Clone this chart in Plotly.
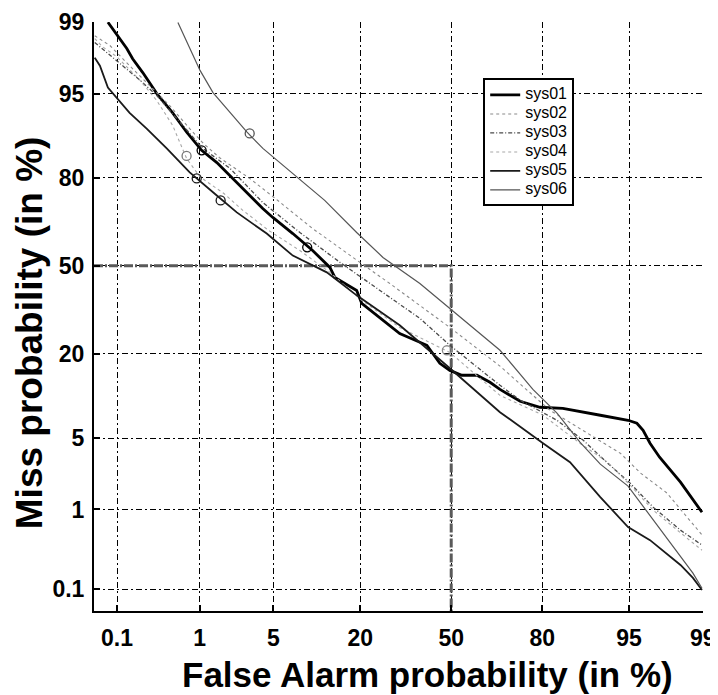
import plotly.graph_objects as go
from statistics import NormalDist

_nd = NormalDist()


def probit(pcts):
    """Map percentages onto the normal-deviate (DET) scale."""
    return [_nd.inv_cdf(p / 100.0) for p in pcts]


# ---------------- data (percent) ----------------
tick_pct = [0.1, 1, 5, 20, 50, 80, 95, 99]
tick_labels = ["0.1", "1", "5", "20", "50", "80", "95", "99"]
axis_x_min_pct, axis_x_max_pct = 0.0478, 99.0
axis_y_min_pct, axis_y_max_pct = 0.0490, 99.0
operating_point_pct = 50

sys01_fa = [0.075, 0.087, 0.108, 0.135, 0.161, 0.217, 0.324, 0.50, 0.722, 1.05, 1.51, 2.17, 3.12, 4.07,
            4.95, 7.15, 10.0, 13.1, 14.1, 19.1, 20.4, 25.5, 31.7, 41.1, 45.8, 49.5, 53.9, 59.4, 64.0,
            67.4, 73.8, 79.4, 84.9, 91.6, 94.9, 95.7, 96.2, 96.7, 97.3, 98.3, 98.73, 98.98]
sys01_miss = [99.0, 98.82, 98.50, 98.10, 97.6, 96.75, 95.0, 92.8, 89.9, 86.5, 83.8, 79.8, 74.9, 70.8,
              67.8, 62.1, 55.8, 49.4, 45.6, 40.7, 36.0, 31.1, 25.9, 22.4, 17.6, 15.9, 14.8, 14.8, 13.3,
              11.9, 9.80, 8.84, 8.68, 7.68, 7.01, 6.64, 5.82, 4.51, 3.38, 1.94, 1.26, 0.93]

sys02_fa = [0.049, 0.080, 0.147, 0.265, 0.462, 0.78, 1.08, 1.61, 3.12, 4.95, 10.0, 21.8, 28.5, 49.5,
            67.4, 81.9, 88.9, 94.1, 96.0, 97.70, 98.54, 98.98]
sys02_miss = [98.60, 98.23, 97.2, 95.7, 93.7, 90.5, 88.0, 84.9, 79.8, 74.6, 63.9, 49.4, 43.3, 27.8,
              16.9, 8.40, 5.82, 3.68, 2.39, 1.50, 0.82, 0.51]

sys03_fa = [0.049, 0.099, 0.199, 0.324, 0.651, 1.08, 2.04, 4.08, 8.08, 15.2, 25.5, 38.6, 49.5, 67.4,
            73.8, 83.6, 88.9, 92.6, 95.1, 96.9, 98.3, 98.98]
sys03_miss = [98.35, 97.5, 96.2, 94.8, 91.0, 86.9, 82.4, 72.7, 62.5, 51.3, 40.7, 30.8, 22.4, 12.7,
              9.97, 7.01, 4.79, 2.97, 1.90, 1.06, 0.58, 0.383]

sys04_fa = [0.049, 0.063, 0.099, 0.199, 0.324, 0.50, 0.722, 1.01, 1.78, 2.70, 4.58, 8.08, 13.1, 20.4,
            31.7, 49.5, 67.4, 80.2, 88.3, 92.6, 95.1, 96.9, 98.3, 98.98]
sys04_miss = [98.50, 98.18, 97.71, 96.2, 94.27, 91.0, 84.7, 80.2, 75.5, 70.2, 63.2, 55.8, 47.5, 37.1,
              27.8, 20.4, 10.8, 7.68, 4.51, 3.04, 1.81, 0.985, 0.54, 0.33]

sys05_fa = [0.049, 0.058, 0.075, 0.099, 0.147, 0.243, 0.426, 0.78, 0.93, 1.51, 2.37, 4.40, 7.15, 12.5,
            19.1, 31.7, 49.5, 67.4, 80.2, 86.4, 91.6, 93.3, 94.9, 96.7, 98.3, 98.73, 98.98]
sys05_miss = [97.66, 97.2, 95.56, 94.6, 92.8, 90.5, 86.9, 81.4, 79.8, 74.9, 69.5, 62.1, 53.9, 47.5,
              38.9, 28.5, 16.4, 8.11, 4.51, 3.04, 1.36, 0.95, 0.63, 0.44, 0.214, 0.144, 0.098]

sys06_fa = [0.575, 0.673, 0.785, 1.01, 1.38, 2.04, 2.95, 4.08, 7.15, 12.1, 19.1, 26.4, 38.6, 49.5,
            67.4, 77.5, 83.6, 88.3, 91.6, 94.9, 96.7, 97.99, 98.73, 98.98]
sys06_miss = [98.99, 98.60, 98.10, 96.9, 95.1, 92.8, 89.9, 86.9, 81.1, 73.4, 62.5, 53.2, 43.3, 34.2,
              21.0, 11.9, 7.97, 4.61, 2.91, 1.77, 0.863, 0.372, 0.167, 0.104]

# decision-cost operating points marked with circles
dcf_fa = {"sys01": [1.05, 9.15], "sys02": [48.4], "sys04": [0.72],
          "sys05": [0.93, 1.65], "sys06": [3.12]}
dcf_miss = {"sys01": [86.5, 57.0], "sys02": [21.0], "sys04": [85.3],
            "sys05": [79.8, 73.4], "sys06": [89.7]}

series = [
    ("sys01", sys01_fa, sys01_miss, "#000000", 2.8, "solid"),
    ("sys02", sys02_fa, sys02_miss, "#8a8a8a", 1.1, "dot"),
    ("sys03", sys03_fa, sys03_miss, "#4a4a4a", 1.3, "4px,2px,1px,2px"),
    ("sys04", sys04_fa, sys04_miss, "#a8a8a8", 1.1, "dot"),
    ("sys05", sys05_fa, sys05_miss, "#1a1a1a", 1.8, "solid"),
    ("sys06", sys06_fa, sys06_miss, "#555555", 1.2, "solid"),
]

FONT = "Liberation Sans, Arial, Helvetica, sans-serif"

# page is rendered with an 8px body margin; compensate so the plot lands where the reference has it
PAGE_OFFSET = 8
W, H = 718 - PAGE_OFFSET, 695 - PAGE_OFFSET
M_L, M_T, M_R, M_B = 86, 13.5, 15.3, 84
plot_w = W - M_L - M_R
plot_h = H - M_T - M_B

fig = go.Figure()

x_lo, x_hi = probit([axis_x_min_pct, axis_x_max_pct])
y_lo, y_hi = probit([axis_y_min_pct, axis_y_max_pct])
x_hi += 0.002
y_hi += 0.002

# 50% reference lines
op = probit([operating_point_pct])[0]
fig.add_trace(go.Scatter(
    x=[x_lo, op, op], y=[op, op, y_lo], mode="lines",
    line=dict(color="#5a5a5a", width=3, dash="9px,2px,2px,2px"),
    showlegend=False, hoverinfo="skip"))

for name, fa, miss, color, width, dash in series:
    fig.add_trace(go.Scatter(
        x=probit(fa), y=probit(miss), mode="lines",
        name='<span style="font-size:16px">%s</span>' % name,
        line=dict(color=color, width=width, dash=dash)))

for name, fa, miss, color, width, dash in series:
    if name in dcf_fa:
        fig.add_trace(go.Scatter(
            x=probit(dcf_fa[name]), y=probit(dcf_miss[name]), mode="markers",
            marker=dict(symbol="circle-open", size=9, color=color if name != "sys04" else "#777777",
                        line=dict(width=1.3)),
            showlegend=False, hoverinfo="skip"))

tick_font = dict(family=FONT, size=23, color="black", weight="bold")
xtitle_font = dict(family=FONT, size=35, color="black", weight="bold")
ytitle_font = dict(family=FONT, size=37, color="black", weight="bold")

axis_common = dict(
    tickvals=probit(tick_pct), ticktext=tick_labels, tickfont=tick_font,
    showgrid=True, gridcolor="#000000", gridwidth=1, griddash="6px,3px,2px,3px",
    showline=True, linecolor="black", linewidth=2, mirror=False,
    ticks="inside", ticklen=6, tickwidth=1.5, tickcolor="black",
    zeroline=False,
)

fig.update_xaxes(range=[x_lo, x_hi], ticklabelstandoff=5, **axis_common)
fig.update_yaxes(range=[y_lo, y_hi], ticklabelstandoff=3, **axis_common)


# axis titles as annotations (placed in page pixels, converted to paper units)
def px_to_paper_x(px):
    return (px - PAGE_OFFSET - M_L) / plot_w


def px_to_paper_y(py):
    return (H - M_B - (py - PAGE_OFFSET)) / plot_h


fig.add_annotation(text="False Alarm probability (in %)", font=xtitle_font, showarrow=False,
                   xref="paper", yref="paper", x=px_to_paper_x(427), y=px_to_paper_y(675),
                   xanchor="center", yanchor="middle")
fig.add_annotation(text="Miss probability (in %)", font=ytitle_font, showarrow=False, textangle=-90,
                   xref="paper", yref="paper", x=px_to_paper_x(29), y=px_to_paper_y(332),
                   xanchor="center", yanchor="middle")

fig.update_layout(
    width=W, height=H,
    margin=dict(l=M_L, r=M_R, t=M_T, b=M_B, autoexpand=False),
    paper_bgcolor="white", plot_bgcolor="white",
    legend=dict(x=px_to_paper_x(483), y=px_to_paper_y(78), xanchor="left", yanchor="top",
                bgcolor="white", bordercolor="black", borderwidth=2,
                font=dict(family=FONT, size=11, color="black"),
                tracegroupgap=0, itemwidth=30),
    showlegend=True,
)

fig.write_html("out.html")
